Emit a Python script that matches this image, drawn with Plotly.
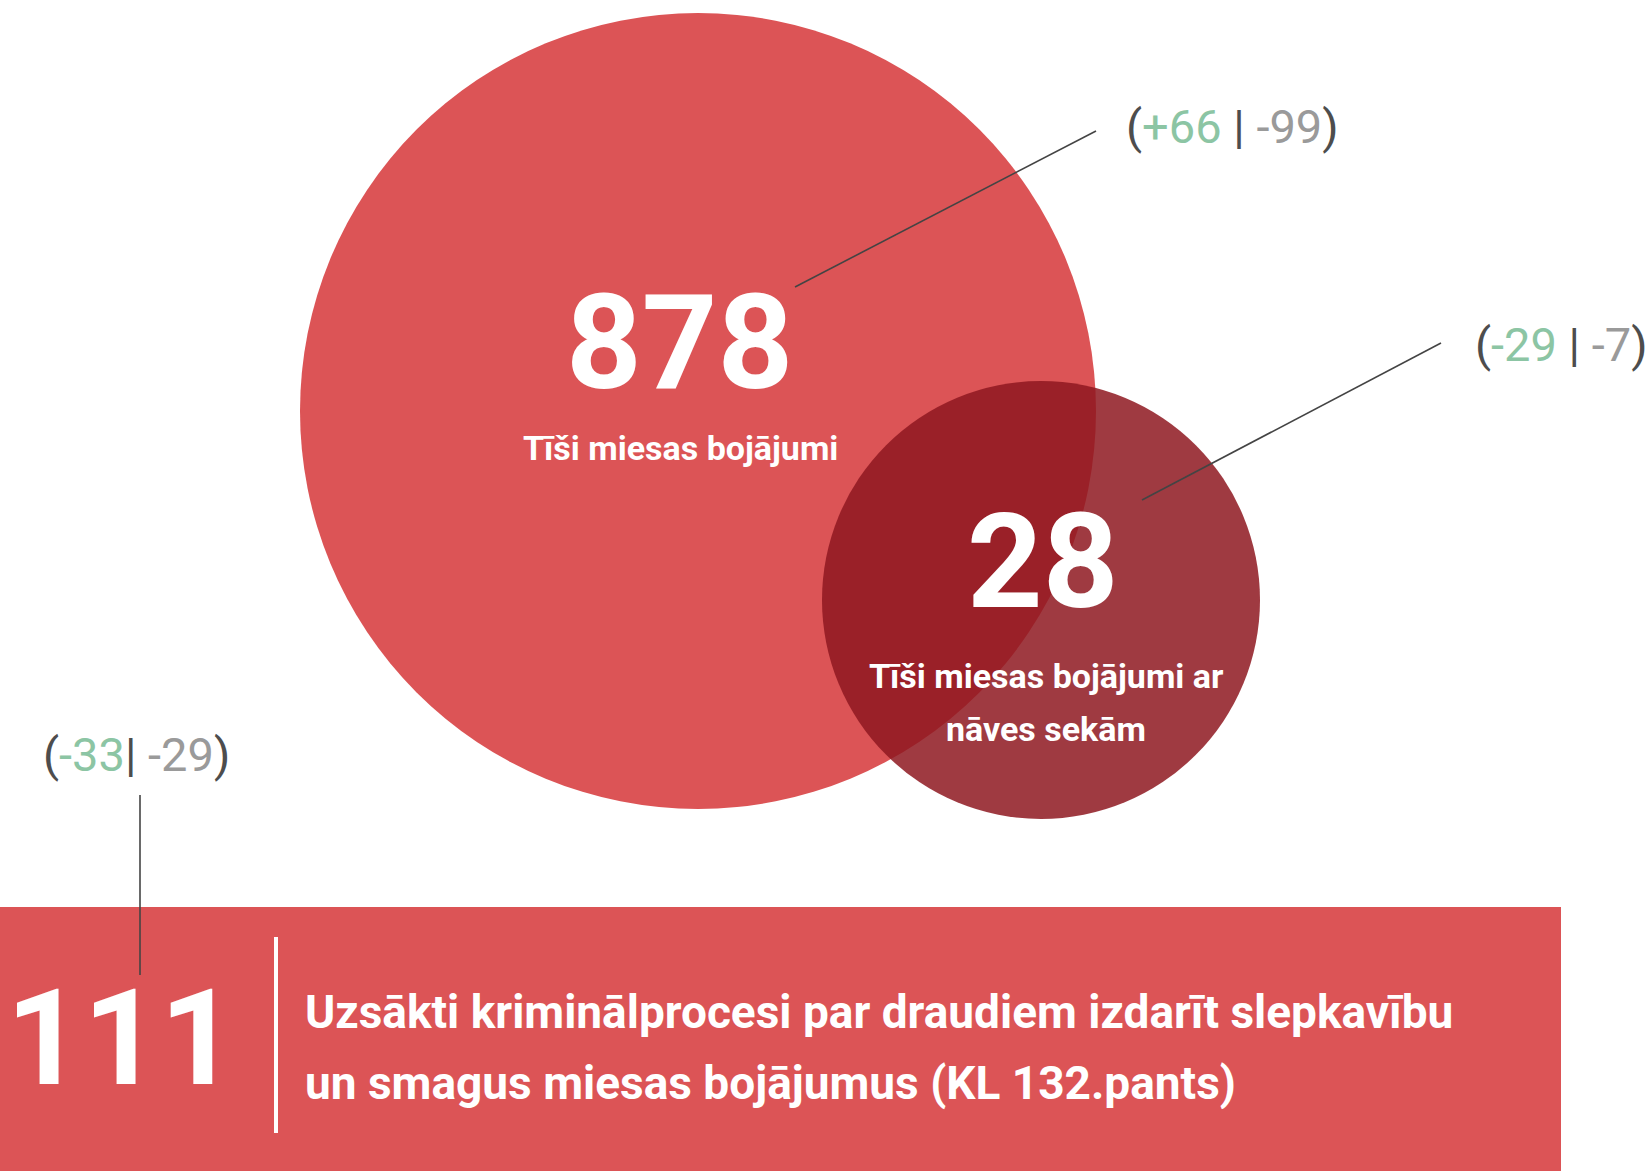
import plotly.graph_objects as go

# ---- data ----
categories = [
    ["Tīši miesas bojājumi"],
    ["Tīši miesas bojājumi ar", "nāves sekām"],
]
values = [878, 28]
bar_value = 111
bar_lines = [
    "Uzsākti kriminālprocesi par draudiem izdarīt slepkavību",
    "un smagus miesas bojājumus (KL 132.pants)",
]
change_a = ["+66", "-29", "-33"]
change_b = ["-99", "-7", "-29"]
change_sep = [" | ", " | ", "| "]

# ---- styles / layout ----
W, H = 1652, 1171
RED = "#dc5456"
DARK = "rgba(142,24,32,0.85)"
GREEN = "#8cc5a4"
GREY = "#9a9a9a"
PAREN = "#4d4d4d"
FONT = "Roboto"

circles = [dict(cx=698, cy=411, r=398, color=RED),
           dict(cx=1041, cy=600, r=219, color=DARK)]
num_pos = [(679, 343), (1042, 562)]
lab_pos = [[(680, 448)], [(1046, 676), (1046, 729)]]
chg_pos = [(1232, 126), (1561, 344), (136, 754)]
leaders = [((1096, 131), (795, 287)), ((1441, 343), (1142, 500)), ((140, 795), (140, 975))]

fig = go.Figure()
fig.add_trace(go.Scatter(x=[0, W], y=[0, H], mode="markers",
                         marker=dict(opacity=0), hoverinfo="skip", showlegend=False))

shapes = []
for c in circles:
    shapes.append(dict(type="circle", xref="x", yref="y",
                       x0=c["cx"] - c["r"], x1=c["cx"] + c["r"],
                       y0=c["cy"] - c["r"], y1=c["cy"] + c["r"],
                       fillcolor=c["color"], line=dict(width=0), layer="above"))
for (p0, p1) in leaders[:2]:
    shapes.append(dict(type="line", xref="x", yref="y", x0=p0[0], y0=p0[1], x1=p1[0], y1=p1[1],
                       line=dict(color="#444444", width=1.6), layer="above"))
# bottom band
shapes.append(dict(type="rect", xref="x", yref="y", x0=0, x1=1561, y0=907, y1=H + 5,
                   fillcolor=RED, line=dict(width=0), layer="above"))
p0, p1 = leaders[2]
shapes.append(dict(type="line", xref="x", yref="y", x0=p0[0], y0=p0[1], x1=p1[0], y1=p1[1],
                   line=dict(color="#444444", width=1.6), layer="above"))
shapes.append(dict(type="line", xref="x", yref="y", x0=276, y0=937, x1=276, y1=1133,
                   line=dict(color="white", width=4), layer="above"))

ann = []
for i, v in enumerate(values):
    ann.append(dict(x=num_pos[i][0], y=num_pos[i][1], text=f"<b>{v}</b>", showarrow=False,
                    font=dict(family=FONT, size=132, color="white"),
                    xanchor="center", yanchor="middle"))
    for line, (lx, ly) in zip(categories[i], lab_pos[i]):
        ann.append(dict(x=lx, y=ly, text=f"<b>{line}</b>", showarrow=False,
                        font=dict(family=FONT, size=34, color="white"),
                        xanchor="center", yanchor="middle"))
for i in range(3):
    t = (f"<span style='color:{PAREN}'>(</span>"
         f"<span style='color:{GREEN}'>{change_a[i]}</span>"
         f"<span style='color:{PAREN}'>{change_sep[i]}</span>"
         f"<span style='color:{GREY}'>{change_b[i]}</span>"
         f"<span style='color:{PAREN}'>)</span>")
    ann.append(dict(x=chg_pos[i][0], y=chg_pos[i][1], text=t, showarrow=False,
                    font=dict(family=FONT, size=47, color=PAREN),
                    xanchor="center", yanchor="middle"))

ann.append(dict(x=121, y=1038, text=f"<b>{bar_value}</b>", showarrow=False,
                font=dict(family=FONT, size=134, color="white"),
                xanchor="center", yanchor="middle"))
for j, line in enumerate(bar_lines):
    ann.append(dict(x=303, y=1012 + j * 71, text=f"<b>{line}</b>", showarrow=False,
                    font=dict(family=FONT, size=46, color="white"),
                    xanchor="left", yanchor="middle"))

fig.update_layout(
    width=W, height=H, margin=dict(l=0, r=0, t=0, b=0),
    paper_bgcolor="white", plot_bgcolor="white",
    xaxis=dict(range=[0, W], visible=False, fixedrange=True),
    yaxis=dict(range=[H, 0], visible=False, fixedrange=True),
    shapes=shapes, annotations=ann, showlegend=False,
)
fig.write_html("out.html", config={"displayModeBar": False},
               post_script="document.body.style.margin='0';document.body.style.overflow='hidden';")
